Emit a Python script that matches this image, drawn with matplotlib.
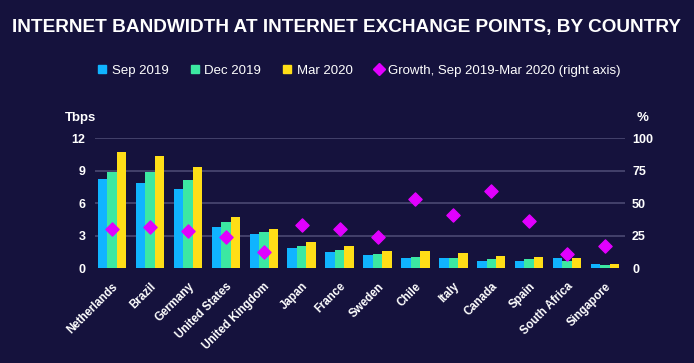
import matplotlib.pyplot as plt
import matplotlib
import numpy as np
from matplotlib.lines import Line2D
from matplotlib.patches import Patch

matplotlib.rc('font', family="Liberation Sans")

countries = ["Netherlands", "Brazil", "Germany", "United States", "United Kingdom", "Japan",
             "France", "Sweden", "Chile", "Italy", "Canada", "Spain", "South Africa", "Singapore"]
sep_2019 = [8.26, 7.82, 7.26, 3.74, 3.15, 1.82, 1.48, 1.23, 0.93, 0.93, 0.65, 0.65, 0.89, 0.37]
dec_2019 = [8.87, 8.87, 8.10, 4.27, 3.34, 2.04, 1.70, 1.30, 1.05, 0.93, 0.86, 0.80, 0.65, 0.31]
mar_2020 = [10.67, 10.30, 9.37, 4.73, 3.62, 2.41, 2.07, 1.58, 1.58, 1.39, 1.14, 1.05, 0.93, 0.37]
growth = [30.2, 31.2, 28.3, 23.7, 12.1, 32.7, 30.2, 24.2, 52.8, 41.0, 59.5, 36.0, 11.0, 16.7]

bg = "#15123d"
c_sep = "#10b4ff"
c_dec = "#3ce8a2"
c_mar = "#ffde17"
c_growth = "#e100ff"
grid_c = "#4a4973"

fig = plt.figure(figsize=(6.94, 3.63), dpi=100, facecolor=bg)
ax = fig.add_axes([0.137, 0.2617, 0.7637, 0.3581])
ax.set_facecolor(bg)
ax2 = ax.twinx()

x = np.arange(len(countries))
w = 0.25
ax.bar(x - w, sep_2019, w, color=c_sep, zorder=3)
ax.bar(x, dec_2019, w, color=c_dec, zorder=3)
ax.bar(x + w, mar_2020, w, color=c_mar, zorder=3)

ax2.scatter(x, growth, marker="D", s=45, color=c_growth, zorder=5)

ax.set_xlim(-0.45, len(countries) - 0.47)
ax.set_ylim(0, 12)
ax.set_yticks([0, 3, 6, 9, 12])
ax2.set_ylim(0, 100)
ax2.set_yticks([0, 25, 50, 75, 100])

for y in [3, 6, 9, 12]:
    ax.axhline(y, color=grid_c, linewidth=1.2, zorder=1)

for a in (ax, ax2):
    for s in a.spines.values():
        s.set_visible(False)
    a.tick_params(length=0, colors="white", labelsize=9)
    for lab in a.get_yticklabels():
        lab.set_fontweight("bold")

ax.tick_params(axis="y", pad=7)
ax2.tick_params(axis="y", pad=5)
ax.set_xticks(x)
ax.set_xticklabels(countries, rotation=45, ha="right", rotation_mode="anchor",
                   fontsize=8.3, fontweight="bold", color="white")
ax.tick_params(axis="x", pad=9)

fig.text(0.093, 0.675, "Tbps", color="white", fontsize=9.5, fontweight="bold", ha="left", va="center")
fig.text(0.917, 0.675, "%", color="white", fontsize=9.5, fontweight="bold", ha="left", va="center")

fig.text(0.5, 0.925, "INTERNET BANDWIDTH AT INTERNET EXCHANGE POINTS, BY COUNTRY",
         color="white", fontsize=13.7, fontweight="bold", ha="center", va="center")

handles = [Patch(color=c_sep, label="Sep 2019"),
           Patch(color=c_dec, label="Dec 2019"),
           Patch(color=c_mar, label="Mar 2020"),
           Line2D([], [], marker="D", linestyle="none", color=c_growth, markersize=6,
                  label="Growth, Sep 2019-Mar 2020 (right axis)")]
leg = fig.legend(handles=handles, loc="center", bbox_to_anchor=(0.518, 0.805), ncol=4,
                 frameon=False, fontsize=9.5, handlelength=0.6, handleheight=0.6,
                 handletextpad=0.4, columnspacing=1.7)
for t in leg.get_texts():
    t.set_color("white")

fig.savefig("out.png", dpi=100, facecolor=bg)
